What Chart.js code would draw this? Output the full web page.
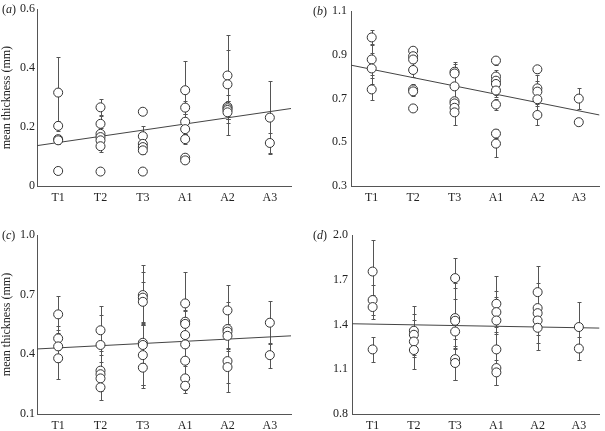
<!DOCTYPE html>
<html>
<head>
<meta charset="utf-8">
<script src="https://cdn.jsdelivr.net/npm/chart.js@4.4.0/dist/chart.umd.min.js"></script>
<style>
	html, body { margin: 0; padding: 0; background: #fff; }
	#wrap { position: relative; width: 605px; height: 431px; overflow: hidden; }
	#wrap canvas { position: absolute; }
</style>
</head>
<body>
<div id="wrap">
	<canvas id="chartA" width="300" height="215" style="left:0;top:0"></canvas>
	<canvas id="chartB" width="305" height="215" style="left:300px;top:0"></canvas>
	<canvas id="chartC" width="300" height="216" style="left:0;top:215px"></canvas>
	<canvas id="chartD" width="305" height="216" style="left:300px;top:215px"></canvas>
</div>
<script>
const categories = ['T1', 'T2', 'T3', 'A1', 'A2', 'A3'];

// (a) values per group and their error half-widths
const thickA = [
	[0.317, 0.204, 0.159, 0.155, 0.051],
	[0.267, 0.211, 0.177, 0.166, 0.155, 0.135, 0.049],
	[0.252, 0.169, 0.143, 0.132, 0.121, 0.049],
	[0.325, 0.266, 0.218, 0.193, 0.159, 0.096, 0.087],
	[0.375, 0.345, 0.269, 0.264, 0.258, 0.250],
	[0.232, 0.146],
];
const errA = [
	[0.120, 0.018, 0.015, 0.012, 0.005],
	[0.028, 0.030, 0.020, 0.040, 0.020, 0.020, 0.005],
	[0.005, 0.034, 0.025, 0.020, 0.011, 0.004],
	[0.100, 0.022, 0.026, 0.015, 0.016, 0.006, 0.004],
	[0.138, 0.118, 0.040, 0.090, 0.030, 0.037],
	[0.123, 0.035],
];
const trendA = [0.137, 0.263];
const ticksA = [0, 0.2, 0.4, 0.6];

// (b)
const thickB = [
	[0.980, 0.879, 0.838, 0.742],
	[0.919, 0.894, 0.879, 0.831, 0.742, 0.733, 0.655],
	[0.823, 0.815, 0.756, 0.688, 0.678, 0.658, 0.637],
	[0.874, 0.801, 0.782, 0.767, 0.737, 0.673, 0.540, 0.494],
	[0.834, 0.747, 0.732, 0.697, 0.625],
	[0.700, 0.592],
];
const errB = [
	[0.033, 0.070, 0.070, 0.050],
	[0.005, 0.010, 0.010, 0.030, 0.025, 0.020, 0.006],
	[0.020, 0.044, 0.111, 0.020, 0.020, 0.020, 0.060],
	[0.018, 0.030, 0.020, 0.050, 0.030, 0.026, 0.022, 0.063],
	[0.016, 0.060, 0.050, 0.030, 0.048],
	[0.047, 0.005],
];
const trendB = [0.853, 0.625];
const ticksB = [0.3, 0.5, 0.7, 0.9, 1.1];

// (c)
const thickC = [
	[0.601, 0.480, 0.440, 0.380],
	[0.521, 0.447, 0.318, 0.300, 0.279, 0.234],
	[0.698, 0.685, 0.664, 0.458, 0.447, 0.396, 0.333],
	[0.656, 0.564, 0.553, 0.497, 0.450, 0.368, 0.279, 0.242],
	[0.621, 0.527, 0.514, 0.493, 0.366, 0.336],
	[0.559, 0.396],
];
const errC = [
	[0.093, 0.060, 0.080, 0.104],
	[0.123, 0.150, 0.100, 0.060, 0.050, 0.064],
	[0.151, 0.130, 0.100, 0.100, 0.200, 0.150, 0.104],
	[0.159, 0.060, 0.100, 0.120, 0.200, 0.080, 0.060, 0.038],
	[0.127, 0.100, 0.150, 0.060, 0.157, 0.080],
	[0.109, 0.063],
];
const trendC = [0.427, 0.493];
const ticksC = [0.1, 0.4, 0.7, 1.0];

// (d)
const thickD = [
	[1.755, 1.564, 1.517, 1.233],
	[1.358, 1.331, 1.286, 1.229],
	[1.711, 1.443, 1.425, 1.353, 1.168, 1.142],
	[1.539, 1.483, 1.427, 1.233, 1.108, 1.079],
	[1.617, 1.510, 1.476, 1.427, 1.378],
	[1.383, 1.239],
];
const errD = [
	[0.214, 0.100, 0.080, 0.085],
	[0.165, 0.100, 0.185, 0.050],
	[0.138, 0.200, 0.250, 0.120, 0.138, 0.112],
	[0.189, 0.100, 0.200, 0.100, 0.112, 0.083],
	[0.178, 0.100, 0.200, 0.100, 0.149],
	[0.167, 0.075],
];
const trendD = [1.405, 1.376];
const ticksD = [0.8, 1.1, 1.4, 1.7, 2.0];

const FONT = 'Liberation Serif, Times New Roman, serif';
const textColor = '#222';
const axisColor = '#555';

// error bars drawn through the chart's own scales, under the circles
const errorBars = {
	id: 'errorBars',
	beforeDatasetsDraw(chart, args, opts) {
		const { ctx, scales: { x, y } } = chart;
		ctx.save();
		ctx.strokeStyle = '#555';
		ctx.lineWidth = 1;
		opts.vals.forEach((group, i) => group.forEach((v, j) => {
			const e = opts.errs[i][j];
			const px = Math.round(x.getPixelForValue(i + 1)) + 0.5;
			const top = Math.round(y.getPixelForValue(v + e)) + 0.5;
			const bot = Math.round(y.getPixelForValue(v - e)) + 0.5;
			ctx.beginPath();
			ctx.moveTo(px, top); ctx.lineTo(px, bot);
			ctx.moveTo(px - 2, top); ctx.lineTo(px + 2, top);
			ctx.moveTo(px - 2, bot); ctx.lineTo(px + 2, bot);
			ctx.stroke();
		}));
		ctx.restore();
	},
};

// "(a)" style panel tag next to the top tick label
const panelTag = {
	id: 'panelTag',
	afterDraw(chart, args, opts) {
		const { ctx, chartArea } = chart;
		const yMid = chartArea.top + 0.5;
		ctx.save();
		ctx.fillStyle = textColor;
		ctx.textBaseline = 'middle';
		ctx.textAlign = 'left';
		let xPos = opts.x;
		ctx.font = `12px ${FONT}`;
		ctx.fillText('(', xPos, yMid);
		xPos += ctx.measureText('(').width;
		ctx.font = `italic 12px ${FONT}`;
		ctx.fillText(opts.letter, xPos, yMid);
		xPos += ctx.measureText(opts.letter).width;
		ctx.font = `12px ${FONT}`;
		ctx.fillText(')', xPos, yMid);
		ctx.restore();
	},
};

const makePanel = (id, cfg) => {
	const points = [];
	cfg.vals.forEach((group, i) => group.forEach((v) => points.push({ x: i + 1, y: v })));
	const fmt = (v) => (v === 0 ? '0' : v.toFixed(1));
	return new Chart(document.getElementById(id), {
		type: 'scatter',
		data: {
			datasets: [
				{
					data: points,
					pointStyle: 'circle',
					pointRadius: 4.5,
					pointBorderWidth: 1,
					pointBorderColor: '#333',
					pointBackgroundColor: '#fff',
					order: 1,
				},
				{
					type: 'line',
					data: [{ x: 0.5, y: cfg.trend[0] }, { x: 6.5, y: cfg.trend[1] }],
					borderColor: '#444',
					borderWidth: 1,
					pointRadius: 0,
					fill: false,
					order: 2,
				},
			],
		},
		options: {
			responsive: false,
			animation: false,
			layout: { padding: cfg.padding },
			plugins: {
				legend: { display: false },
				tooltip: { enabled: false },
				errorBars: { vals: cfg.vals, errs: cfg.errs },
				panelTag: { letter: cfg.letter, x: cfg.tagX },
			},
			scales: {
				x: {
					type: 'linear',
					min: 0.5,
					max: 6.5,
					grid: { display: false, drawTicks: false },
					border: { color: axisColor, width: 1 },
					afterBuildTicks: (s) => { s.ticks = categories.map((c, i) => ({ value: i + 1 })); },
					afterFit: (s) => { s.height = cfg.xHeight; },
					ticks: {
						color: textColor,
						font: { family: FONT, size: 12 },
						padding: 5,
						maxRotation: 0,
						callback: (v, i) => categories[i],
					},
				},
				y: {
					min: cfg.ticks[0],
					max: cfg.ticks[cfg.ticks.length - 1],
					grid: { display: false, drawTicks: false },
					border: { color: axisColor, width: 1 },
					afterBuildTicks: (s) => { s.ticks = cfg.ticks.map((v) => ({ value: v })); },
					afterFit: (s) => { s.width = cfg.yWidth; },
					ticks: {
						color: textColor,
						font: { family: FONT, size: 12 },
						padding: cfg.tickPad,
						callback: (v) => fmt(v),
					},
					title: {
						display: !!cfg.yTitle,
						text: cfg.yTitle || '',
						color: textColor,
						font: { family: FONT, size: 12 },
						padding: 0,
					},
				},
			},
		},
		plugins: [errorBars, panelTag],
	});
};

document.addEventListener('DOMContentLoaded', () => {
	makePanel('chartA', { vals: thickA, errs: errA, trend: trendA, ticks: ticksA, letter: 'a', tagX: 2,
		yTitle: 'mean thickness (mm)', yWidth: 37, tickPad: 2, xHeight: 29, padding: { top: 7, right: 9, bottom: 0, left: 0 } });
	makePanel('chartB', { vals: thickB, errs: errB, trend: trendB, ticks: ticksB, letter: 'b', tagX: 13,
		yWidth: 51, tickPad: 4, xHeight: 29, padding: { top: 7, right: 1, bottom: 0, left: 0 } });
	makePanel('chartC', { vals: thickC, errs: errC, trend: trendC, ticks: ticksC, letter: 'c', tagX: 2,
		yTitle: 'mean thickness (mm)', yWidth: 37, tickPad: 2, xHeight: 17, padding: { top: 20, right: 9, bottom: 0, left: 0 } });
	makePanel('chartD', { vals: thickD, errs: errD, trend: trendD, ticks: ticksD, letter: 'd', tagX: 13,
		yWidth: 52, tickPad: 4, xHeight: 17, padding: { top: 20, right: 1, bottom: 0, left: 0 } });
});
</script>
</body>
</html>
